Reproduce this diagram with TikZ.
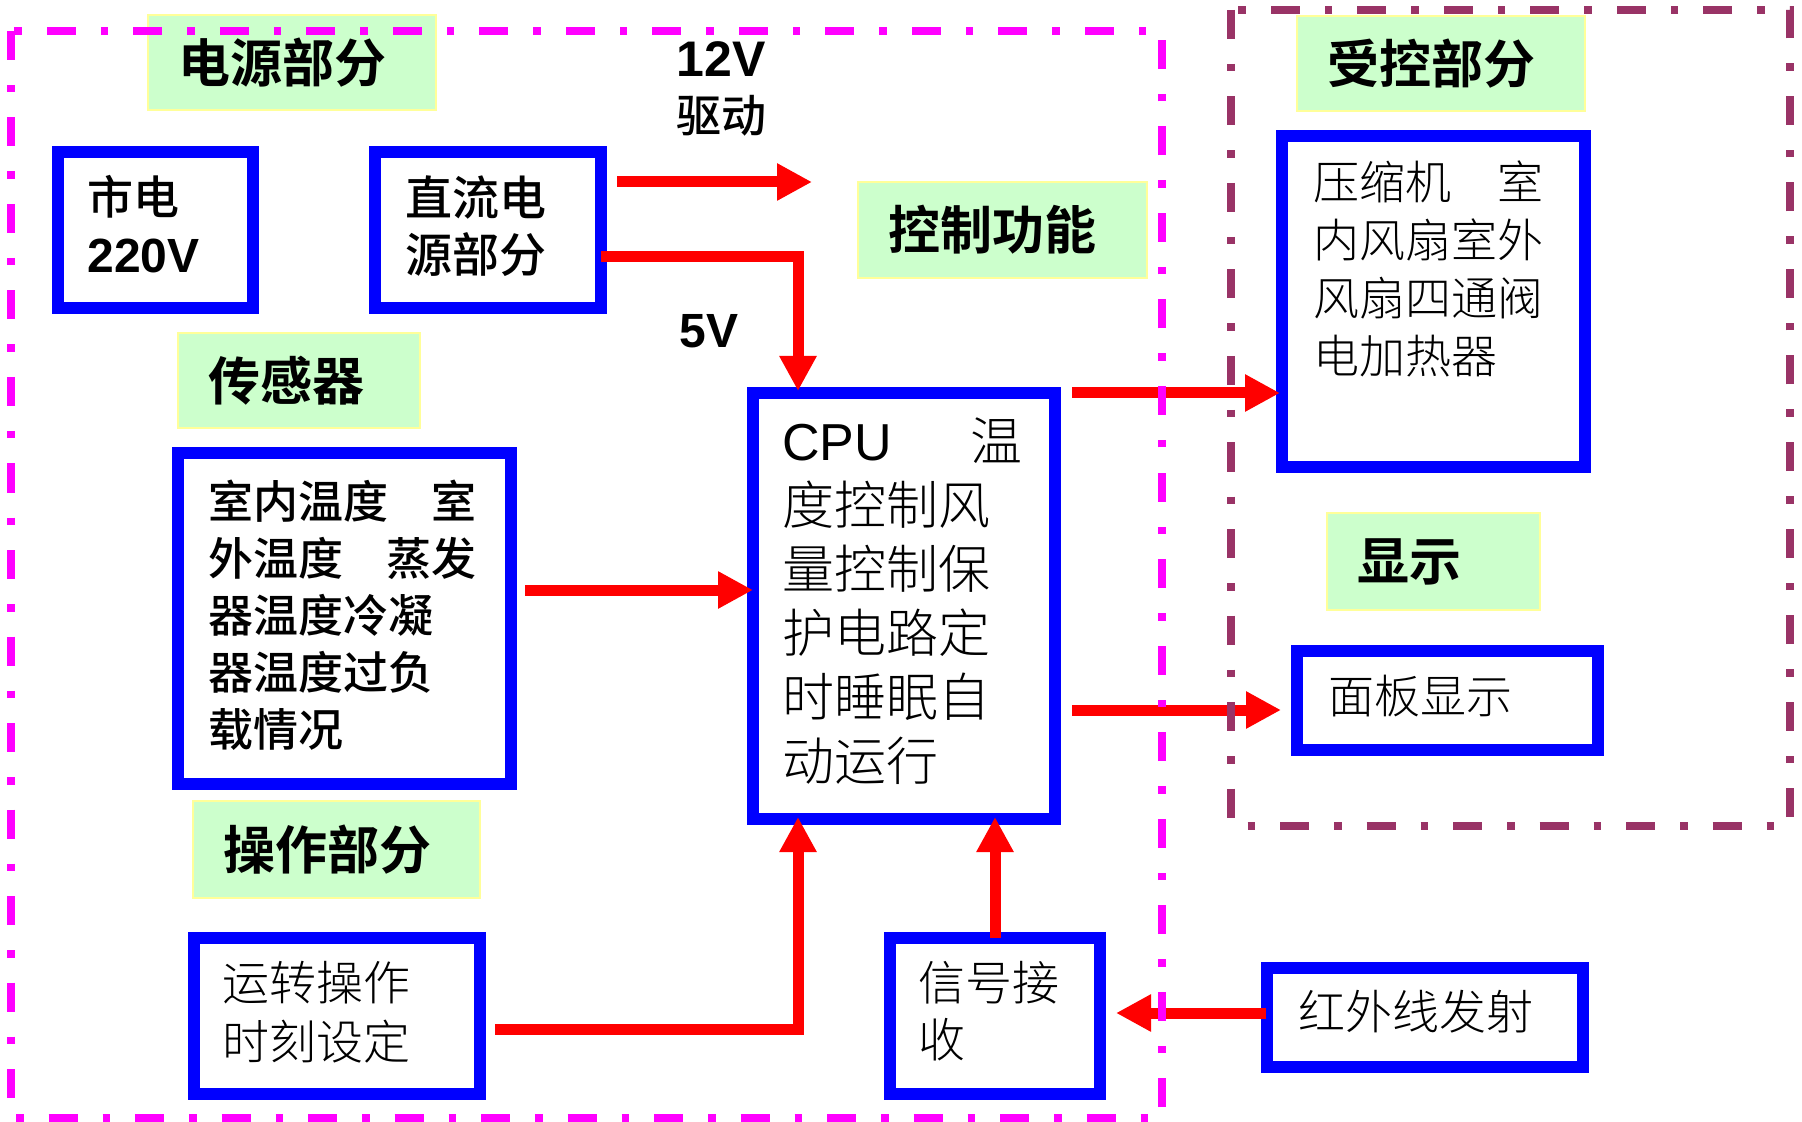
\documentclass[tikz,border=0pt]{standalone}
\usepackage{fontspec}
\usetikzlibrary{arrows.meta}
\setmainfont{Noto Sans CJK SC}
\IfFontExistsTF{Noto Sans CJK SC Light}{\newfontfamily\cjkL{Noto Sans CJK SC Light}}{\newfontfamily\cjkL{Noto Sans CJK SC}}
\IfFontExistsTF{Noto Sans CJK SC Medium}{\newfontfamily\cjkM{Noto Sans CJK SC Medium}}{\newfontfamily\cjkM{Noto Sans CJK SC}}
\IfFontExistsTF{Noto Sans CJK SC Bold}{\newfontfamily\cjkB{Noto Sans CJK SC Bold}}{\newfontfamily\cjkB{Noto Sans CJK SC}[FakeBold=2]}
\newfontfamily\lat{Liberation Sans}
\definecolor{labg}{HTML}{CCFFCC}
\definecolor{laby}{HTML}{FFFF99}
\definecolor{boxblue}{HTML}{0000FF}
\definecolor{mag}{HTML}{FF00FF}
\definecolor{maroon}{HTML}{993366}
\definecolor{arrred}{HTML}{FF0000}
\begin{document}
\begin{tikzpicture}[x=0.5pt,y=-0.5pt,
  box/.style={draw=boxblue, line width=5.8pt, fill=white, inner sep=0pt},
  lab/.style={fill=labg, draw=laby, line width=1pt, inner xsep=15pt, inner ysep=0pt,
    align=left, font=\cjkB\fontsize{26pt}{30pt}\selectfont},
  txt/.style={anchor=north west, inner sep=0pt, align=left},
  arr/.style={draw=arrred, line width=5.5pt, line join=miter,
    -{Triangle[length=17.5pt,width=17.5pt]}},
  border/.style={line width=4pt, dash pattern=on 14.5pt off 12.5pt on 3.75pt off 12.5pt}]
\useasboundingbox (0,0) rectangle (1802,1122);
\fill[white] (0,0) rectangle (1802,1122);

% section labels
\node[lab, text width=114pt, minimum height=47.5pt] (L1) at (292,62.5) {电源部分};
\node[lab, text width=91pt, minimum height=47.5pt] (L2) at (299,380.5) {传感器};
\node[lab, text width=114.5pt, minimum height=48pt] (L3) at (1002.5,230) {控制功能};
\node[lab, text width=114pt, minimum height=47.5pt] (L4) at (1441,63.5) {受控部分};
\node[lab, text width=76.5pt, minimum height=48.5pt] (L5) at (1433.5,561.5) {显示};
\node[lab, text width=113.5pt, minimum height=48.5pt] (L6) at (336.5,849.5) {操作部分};

% blue boxes
\node[box, minimum width=97.7pt, minimum height=78.2pt] (B1) at (155.5,230) {};
\node[box, minimum width=113.2pt, minimum height=78.2pt] (B2) at (488,230) {};
\node[box, minimum width=166.7pt, minimum height=165.7pt] (B3) at (344.5,618.5) {};
\node[box, minimum width=151.2pt, minimum height=213.2pt] (B4) at (904,606) {};
\node[box, minimum width=151.7pt, minimum height=165.7pt] (B5) at (1433.5,301.5) {};
\node[box, minimum width=150.7pt, minimum height=49.7pt] (B6) at (1447.5,700.5) {};
\node[box, minimum width=143.2pt, minimum height=78.2pt] (B7) at (337,1016) {};
\node[box, minimum width=105.2pt, minimum height=78.2pt] (B8) at (995,1016) {};
\node[box, minimum width=158.2pt, minimum height=49.7pt] (B9) at (1425,1017.5) {};

% box texts
\node[txt, font=\cjkM\fontsize{23pt}{29pt}\selectfont] (T1) at (87,175)
  {市电\\{\lat\bfseries\fontsize{24pt}{29pt}\selectfont 220V}};
\node[txt, font=\cjkM\fontsize{23.5pt}{28.5pt}\selectfont] (T2) at (405,175) {直流电\\源部分};
\node[txt, font=\cjkM\fontsize{22.5pt}{28.5pt}\selectfont] (T3) at (208,480)
  {室内温度\hspace{0.95em}室\\外温度\hspace{0.95em}蒸发\\器温度冷凝\\器温度过负\\载情况};
\node[txt, font=\cjkL\fontsize{26pt}{32pt}\selectfont] (T4) at (782,417)
  {{\lat CPU}\hspace{39pt}温\\度控制风\\量控制保\\护电路定\\时睡眠自\\动运行};
\node[txt, font=\cjkL\fontsize{23pt}{29pt}\selectfont] (T5) at (1313,160)
  {压缩机\hspace{1em}室\\内风扇室外\\风扇四通阀\\电加热器};
\node[txt, font=\cjkL\fontsize{23pt}{29pt}\selectfont] (T6) at (1328,675) {面板显示};
\node[txt, font=\cjkL\fontsize{23.5pt}{29.5pt}\selectfont] (T7) at (222,961) {运转操作\\时刻设定};
\node[txt, font=\cjkL\fontsize{23.5pt}{28.5pt}\selectfont] (T8) at (918,961) {信号接\\收};
\node[txt, font=\cjkL\fontsize{23.5pt}{29pt}\selectfont] (T9) at (1298,990) {红外线发射};
\node[txt, font=\cjkM\fontsize{22.5pt}{28pt}\selectfont] (T10) at (676,41)
  {{\lat\bfseries\fontsize{25pt}{28pt}\selectfont 12V}\\驱动};
\node[txt, font=\lat\bfseries\fontsize{24pt}{28pt}\selectfont] (T11) at (679,314) {5V};

% helper coordinates
\coordinate (t12) at (812,182);
\coordinate (k5) at (798,257);
\coordinate (y590) at (600,590);
\coordinate (y393) at (1150,393);
\coordinate (y710) at (1150,710);
\coordinate (k6) at (798,1029);
\coordinate (y1013) at (1180,1013);

% arrows
\draw[arr] ([xshift=5pt]B2.east |- t12) -- (t12);
\draw[arr] ([xshift=-3pt]B2.east |- k5) -- (k5) -- ([yshift=-2pt]B4.north -| k5);
\draw[arr] ([xshift=4pt]B3.east |- y590) -- ([xshift=3pt]B4.west |- y590);
\draw[arr] ([xshift=5.5pt]B4.east |- y393) -- ([xshift=2pt]B5.west |- y393);
\draw[arr] ([xshift=5.5pt]B4.east |- y710) -- ([xshift=-5pt]B6.west |- y710);
\draw[arr] ([xshift=4.5pt]B7.east |- k6) -- (k6) -- ([yshift=4pt]B4.south -| k6);
\draw[arr] ([yshift=-3pt]B8.north) -- ([yshift=4pt]B4.south -| B8.north);
\draw[arr] ([xshift=2.5pt]B9.west |- y1013) -- ([xshift=5pt]B8.east |- y1013);

% dash-dot region borders
\draw[border, draw=mag] (11,31) rectangle (1162,1118);
\draw[border, draw=maroon] (1231,10) rectangle (1790,826);
\end{tikzpicture}
\end{document}
